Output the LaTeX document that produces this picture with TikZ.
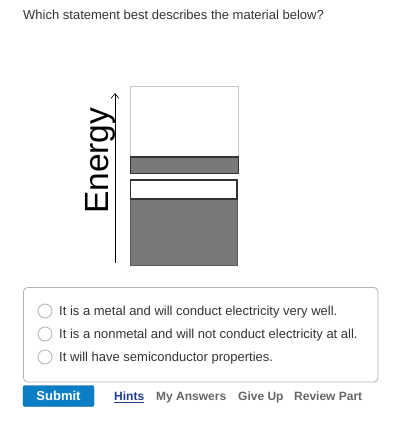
\documentclass[tikz,border=0pt]{standalone}
\usepackage{fontspec}
\setmainfont{Liberation Sans}
\usetikzlibrary{arrows.meta}
\definecolor{textgray}{HTML}{333333}
\definecolor{linkgray}{HTML}{666666}
\definecolor{hintblue}{HTML}{1F3C96}
\definecolor{bandgray}{HTML}{77797B}
\definecolor{edgegray}{HTML}{333333}
\definecolor{lightedge}{HTML}{C8C8C8}
\definecolor{boxgray}{HTML}{B3B3B3}
\definecolor{radiogray}{HTML}{B8B8B8}
\definecolor{submitblue}{HTML}{0B7FC6}
\definecolor{submitedge}{HTML}{08629C}
\begin{document}
\begin{tikzpicture}[x=1pt,y=-1pt,
		question/.style={inner sep=0pt, anchor=base west, text=textgray, font=\fontsize{13}{15}\selectfont},
		choice/.style={question},
		radio/.style={circle, draw=radiogray, line width=0.9pt, minimum size=14pt, inner sep=0pt},
		navlink/.style={inner sep=0pt, anchor=base west, text=linkgray, font=\fontsize{12}{14}\selectfont\bfseries},
		bandbox/.style={draw=edgegray, line width=1.1pt}]
		\useasboundingbox (0,0) rectangle (412,421);
		\node[question] (title) at (23,19) {Which statement best describes the material below?};
		% energy axis
		\coordinate (axisbot) at (115,263);
		\coordinate (axistop) at (115,93);
		\draw[-{Straight Barb[length=5pt,width=8pt]}, line width=0.6pt] (axisbot) -- (axistop);
		\node[rotate=90, anchor=base west, inner sep=0pt, font=\fontsize{33.5}{38}\selectfont] (energy) at (108.5,214) {Energy};
		% bands
		\draw[draw=lightedge, line width=1pt] (130.5,86) rectangle (238,157);
		\draw[fill=bandgray, bandbox] (130.5,157) rectangle (238.5,173.5);
		\fill[bandgray] (130.5,199) rectangle (237,265.5);
		\draw[draw=black!65, line width=1pt] (130.5,199) rectangle (237,265.5);
		\draw[bandbox] (130.5,180) rectangle (237,199);
		% answers
		\draw[draw=boxgray, rounded corners=4pt, line width=0.8pt] (23.5,287.5) rectangle (378,382);
		\foreach \t [count=\i] in {It is a metal and will conduct electricity very well.,
			It is a nonmetal and will not conduct electricity at all.,
			It will have semiconductor properties.} {
			\pgfmathsetmacro{\yb}{292+23*\i}
			\node[radio] (radio\i) at (45,\yb-4) {};
			\node[choice] (choice\i) at (59,\yb) {\t};
		}
		% buttons
		\node[fill=submitblue, draw=submitedge, rounded corners=2pt, minimum width=71pt, minimum height=21pt,
			text=white, font=\fontsize{13}{15}\selectfont\bfseries] (submit) at (58.5,396) {Submit};
		\node[navlink, text=hintblue] (hints) at (114,400.5) {\underline{Hints}};
		\node[navlink] (answers) at (156,400.5) {My Answers};
		\node[navlink] (giveup) at (238,400.5) {Give Up};
		\node[navlink] (review) at (294,400.5) {Review Part};
	\end{tikzpicture}
\end{document}
